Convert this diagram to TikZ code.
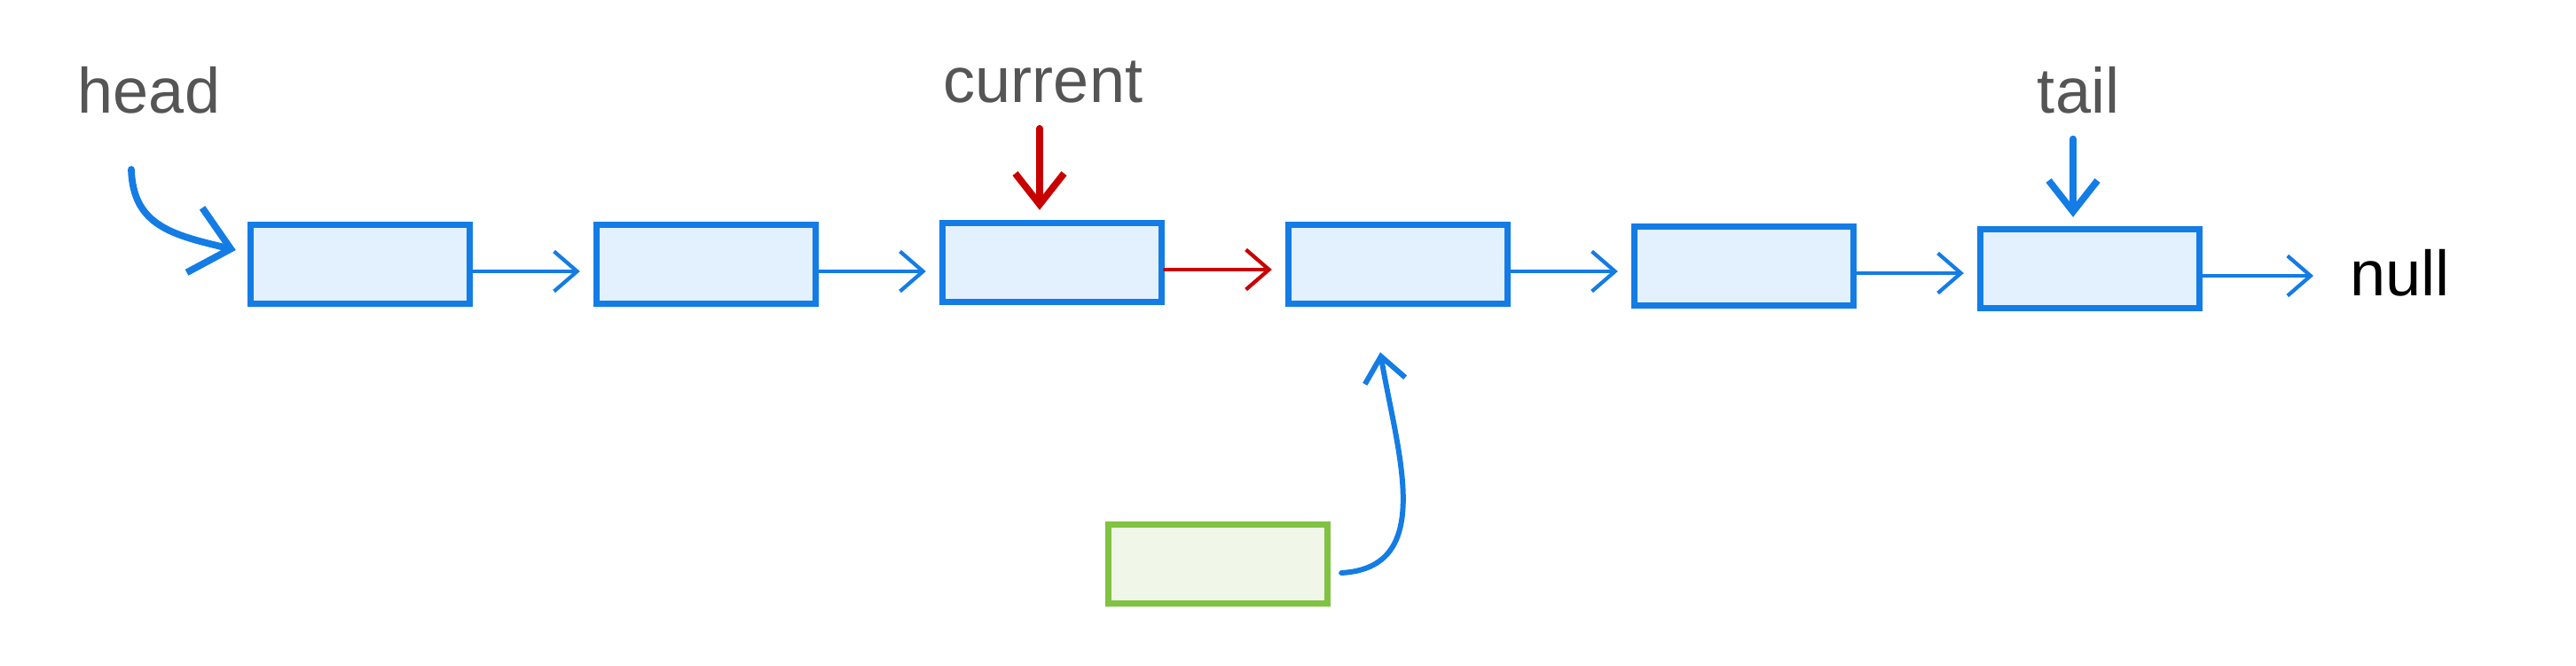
\documentclass[tikz,border=0pt]{standalone}
\usepackage{fontspec}
\setmainfont{Liberation Sans}
\usetikzlibrary{arrows.meta}
\definecolor{nodeblue}{RGB}{20,124,229}
\definecolor{nodefill}{RGB}{227,240,253}
\definecolor{newgreen}{RGB}{128,194,66}
\definecolor{newfill}{RGB}{240,247,233}
\definecolor{ptrred}{RGB}{200,0,0}
\definecolor{labelgray}{RGB}{85,85,85}
\tikzstyle{box} = [draw=nodeblue, fill=nodefill, line width=2.1pt, minimum width=2.47cm, minimum height=0.89cm, inner sep=0pt]
\tikzstyle{newbox} = [box, draw=newgreen, fill=newfill]
\tikzstyle{link} = [nodeblue, line width=1.2pt, line cap=round, -{Straight Barb[length=2.6mm,width=4.5mm]}, shorten >=1.5mm]
\tikzstyle{ptr} = [nodeblue, line width=2.2pt, line cap=round, line join=round, -{Straight Barb[length=3.5mm,width=5.5mm]}]
\tikzstyle{lbl} = [text=labelgray, font=\fontsize{20.5}{24}\selectfont, inner sep=1pt]

\begin{document}
\begin{tikzpicture}
        \useasboundingbox (0,0) rectangle (29.04,7.5);
        %list nodes
        \node[box] (n1) at (4.06,4.52) {};
        \node[box] (n2) at (7.96,4.52) {};
        \node[box] (n3) at (11.86,4.54) {};
        \node[box] (n4) at (15.76,4.52) {};
        \node[box] (n5) at (19.66,4.50) {};
        \node[box] (n6) at (23.56,4.47) {};
        \node[newbox] (newnode) at (13.73,1.14) {};
        %labels
        \node[lbl] (head) at (1.68,6.48) {head};
        \node[lbl] (current) at (11.76,6.57) {current};
        \node[lbl] (tail) at (23.43,6.48) {tail};
        \node[lbl, text=black, anchor=west] (null) at (26.45,4.42) {null};
        %next links
        \draw[link] ([yshift=-0.8mm]n1.east) -- ([yshift=-0.8mm]n1.east -| n2.west);
        \draw[link] ([yshift=-0.8mm]n2.east) -- ([yshift=-0.8mm]n2.east -| n3.west);
        \draw[link, ptrred] ([yshift=-0.8mm]n3.east) -- ([yshift=-0.8mm]n3.east -| n4.west);
        \draw[link] ([yshift=-0.8mm]n4.east) -- ([yshift=-0.8mm]n4.east -| n5.west);
        \draw[link] ([yshift=-0.8mm]n5.east) -- ([yshift=-0.8mm]n5.east -| n6.west);
        \draw[link, shorten >=3.7mm] ([yshift=-0.8mm]n6.east) -- ([yshift=-0.8mm]n6.east -| null.west);
        %pointers
        \coordinate (hstart) at (1.48,5.59);
        \draw[ptr, -{Straight Barb[length=4.2mm,width=7.5mm]}] (hstart) .. controls (1.50,4.95) and (1.95,4.85) .. ([xshift=-1.3mm,yshift=1.6mm]n1.west);
        \draw[ptr, ptrred, shorten <=2.4mm] (current.south -| 11.72,0) -- ([yshift=1.1mm]n3.north -| 11.72,0);
        \draw[ptr, shorten <=2.4mm] (tail.south -| 23.37,0) -- ([yshift=1mm]n6.north -| 23.37,0);
        \draw[ptr, line width=1.7pt, -{Straight Barb[length=2.8mm,width=4.6mm]}] ([xshift=1.2mm,yshift=-1mm]newnode.east) .. controls (16.2,1.1) and (15.75,2.4) .. ([xshift=-2mm,yshift=-5.1mm]n4.south);
\end{tikzpicture}
\end{document}
